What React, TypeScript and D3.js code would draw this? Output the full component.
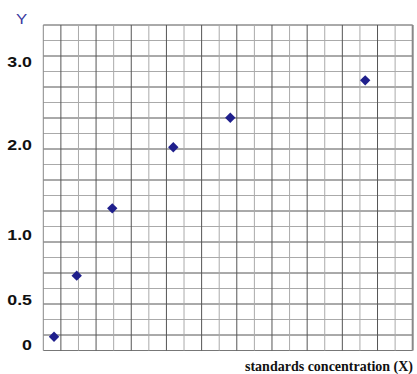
import React from "react";
import * as d3 from "d3";

// Grid of 21 x 21 cells; data read in grid units
const gridColumns = d3.range(0, 22);
const gridRows = d3.range(0, 22);

// Standard points (x in grid columns, y in grid rows from the bottom)
const pointX = [0.61, 1.9, 3.92, 7.39, 10.63, 18.3];
const pointY = [0.89, 4.83, 9.17, 13.11, 15.02, 17.43];

// Y tick labels and where they sit (grid rows from the bottom)
const yTickLabels = ["0", "0.5", "1.0", "2.0", "3.0"];
const yTickRows = [0.35, 3.28, 7.45, 13.28, 18.63];

const xTitle = "standards concentration (X)";
const yTitle = "Y";

const W = 417;
const H = 374;

export default function App() {
  const x = d3.scaleLinear().domain([0, 21]).range([43.3, 412.7]);
  const y = d3.scaleLinear().domain([0, 21]).range([350.5, 25]);
  const diamond = d3.symbol(d3.symbolSquare, 54)() as string;

  return (
    <svg
      width={W}
      height={H}
      style={{ position: "absolute", left: 0, top: 0, background: "#fff" }}
    >
      <rect x={0} y={0} width={W} height={H} fill="#fff" />
      {/* horizontal grid */}
      {gridRows.map((r) => (
        <line
          key={"h" + r}
          x1={x(0)}
          x2={x(21)}
          y1={y(r)}
          y2={y(r)}
          stroke={r === 0 ? "#777" : (21 - r) % 2 === 0 ? "#555" : "#aaa"}
          strokeWidth={1}
        />
      ))}
      {/* vertical grid */}
      {gridColumns.map((c) => (
        <line
          key={"v" + c}
          x1={x(c)}
          x2={x(c)}
          y1={y(0)}
          y2={y(21)}
          stroke={c === 21 ? "#888" : c === 0 ? "#888" : c % 2 === 1 ? "#555" : "#aaa"}
          strokeWidth={c === 21 ? 2 : 1}
        />
      ))}
      {/* points */}
      {pointX.map((px, i) => (
        <path
          key={"p" + i}
          d={diamond}
          transform={`translate(${x(px)},${y(pointY[i])}) rotate(45)`}
          fill="#1f1f8c"
        />
      ))}
      {/* y tick labels */}
      {yTickLabels.map((t, i) => (
        <text
          key={"t" + i}
          transform={`translate(32,${y(yTickRows[i]) + 5}) scale(1.27,1)`}
          textAnchor="end"
          fontFamily="'Liberation Sans', Arial, sans-serif"
          fontWeight="bold"
          fontSize={14}
          fill="#111"
        >
          {t}
        </text>
      ))}
      <text
        transform="translate(21.7,24) scale(1.2,1)"
        textAnchor="middle"
        fontFamily="'Liberation Sans', Arial, sans-serif"
        fontSize={14}
        fill="#3a3aa0"
      >
        {yTitle}
      </text>
      <text
        x={413}
        y={371}
        textAnchor="end"
        fontFamily="'Liberation Serif', 'Times New Roman', serif"
        fontWeight="bold"
        fontSize={14}
        fill="#111"
      >
        {xTitle}
      </text>
    </svg>
  );
}
